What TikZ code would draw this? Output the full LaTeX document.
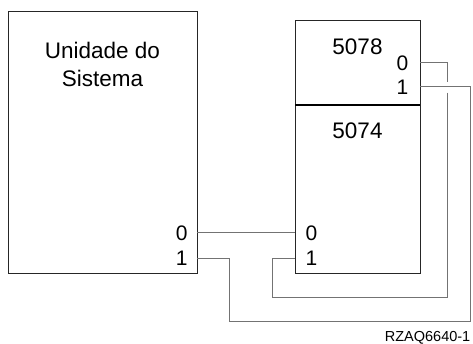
\documentclass[tikz,border=0pt]{standalone}
\usepackage{fontspec}
\setmainfont{Liberation Sans}
\begin{document}
\begin{tikzpicture}[x=1pt,y=-1pt,
  box/.style={draw=black!85, line width=0.9pt, inner sep=0pt, outer sep=0pt},
  wire/.style={draw=black!55, line width=0.9pt},
  lab/.style={font=\fontsize{22.5}{26}\selectfont, inner sep=0pt, anchor=base},
  port/.style={font=\fontsize{21}{25}\selectfont, inner sep=0pt},
  divider/.style={draw=black, line width=1.8pt}]
\useasboundingbox (0,0) rectangle (473,343);
% boxes
\node[box, minimum width=189pt, minimum height=262.3pt] (sys) at (102.8,142.15) {};
\node[box, minimum width=125pt, minimum height=85pt] (top) at (357.5,62.5) {};
\node[box, minimum width=125pt, minimum height=168.3pt] (low) at (357.5,189.15) {};
\draw[divider] (top.south west) -- (top.south east);
% titles
\node[lab] (t1) at (102.5,58.3) {Unidade do};
\node[lab] (t2) at (102.5,86.3) {Sistema};
\node[lab] (n5078) at (357.5,54.3) {5078};
\node[lab] (n5074) at (357.5,138.5) {5074};
% port labels
\node[port, anchor=base east] (tz) at (408.5,70.7) {0};
\node[port, anchor=base east] (to) at (408.5,94.3) {1};
\node[port, anchor=base east] (sz) at (187.8,240.3) {0};
\node[port, anchor=base east] (so) at (187.8,265.3) {1};
\node[port, anchor=base west] (lz) at (305.5,240.3) {0};
\node[port, anchor=base west] (lo) at (305.5,265.3) {1};
% port points
\coordinate (sp0) at (197.3,232.3);
\coordinate (sp1) at (197.3,258.3);
\coordinate (lp0) at (295,232.3);
\coordinate (lp1) at (295,258.3);
\coordinate (tp0) at (420,62.7);
\coordinate (tp1) at (420,86.7);
\coordinate (gapA) at (447.7,81.7);
\coordinate (gapB) at (447.7,92.7);
\coordinate (innerC) at (272.7,297.7);
\coordinate (outerR) at (470.7,321.2);
\coordinate (outerL) at (229.3,258.3);
% wires
\draw[wire] (sp0) -- (lp0);
\draw[wire] (tp0) -| (gapA);
\draw[wire] (gapB) |- (innerC) |- (lp1);
\draw[wire] (tp1) -| (outerR) -| (outerL) -- (sp1);
% figure id
\node[font=\fontsize{14.5}{17}\selectfont, anchor=base east, inner sep=0pt] (fig) at (470.5,341) {RZAQ6640-1};
\end{tikzpicture}
\end{document}
